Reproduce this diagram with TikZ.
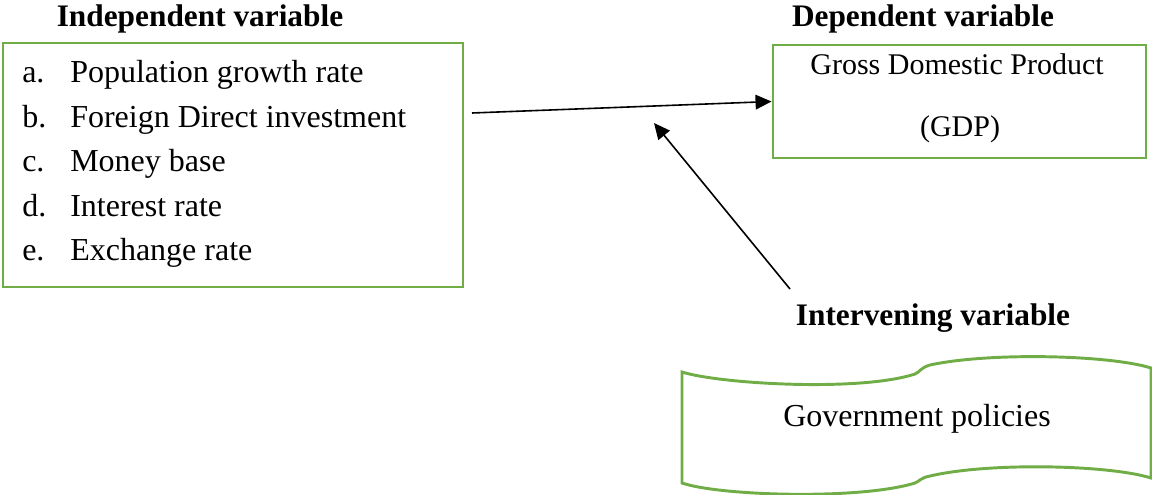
\documentclass[tikz,border=0pt]{standalone}
\usepackage{fontspec}
\setmainfont{Liberation Serif}
\usetikzlibrary{arrows.meta}
\usetikzlibrary{calc}
\definecolor{boxgreen}{RGB}{112,173,71}

\begin{document}
\begin{tikzpicture}[x=0.75pt,y=-0.75pt,
	greenbox/.style={draw=boxgreen,line width=2.2pt},
	heading/.style={font=\fontsize{23.5}{28}\selectfont\bfseries,anchor=base,inner sep=0pt},
	body/.style={font=\fontsize{24}{28}\selectfont,inner sep=0pt},
	small/.style={font=\fontsize{22.5}{26}\selectfont,inner sep=0pt},
	link/.style={-{Triangle[length=12pt,width=11pt]},line width=1.2pt}]
\useasboundingbox (0,0) rectangle (1152,495);
% headings
\node[heading] (indeptitle) at (200,27) {Independent variable};
\node[heading] (deptitle) at (923,27) {Dependent variable};
\node[heading] (intertitle) at (933,325) {Intervening variable};
% independent variables
\node[greenbox,minimum width=345pt,minimum height=183pt] (indep) at (233,165) {};
\foreach \l/\t [count=\i] in {a/Population growth rate,b/Foreign Direct investment,c/Money base,d/Interest rate,e/Exchange rate} {
	\node[body,anchor=base west] (lbl\l) at (22,{83+44.5*(\i-1)}) {\l.};
	\node[body,anchor=base west] (item\l) at (70,{83+44.5*(\i-1)}) {\t};
}
% dependent variable
\node[greenbox,minimum width=279.75pt,minimum height=84.75pt] (gdp) at (959.5,101.5) {};
\node[small,anchor=base] (gdpname) at (957,75) {Gross Domestic Product};
\node[small,anchor=base] (gdpabbr) at (960,137) {(GDP)};
% intervening variable
\draw[greenbox] (682,372) .. controls (720,384) and (860,392) .. (915,374)
	.. controls (920,372) and (920,368) .. (930,365)
	.. controls (990,352) and (1110,355) .. (1151,368) -- (1151,478)
	.. controls (1110,465) and (990,462) .. (930,476)
	.. controls (920,478) and (920,481) .. (915,483)
	.. controls (860,500) and (720,496) .. (682,483) -- cycle;
\node[body,anchor=base] (policy) at (917,426) {Government policies};
% arrows
\coordinate (from1) at (472,113);
\coordinate (from2) at (790,289);
\coordinate (to2) at (654,123);
\draw[link] (from1) -- (gdp.west);
\draw[link] (from2) -- (to2);
\end{tikzpicture}
\end{document}
